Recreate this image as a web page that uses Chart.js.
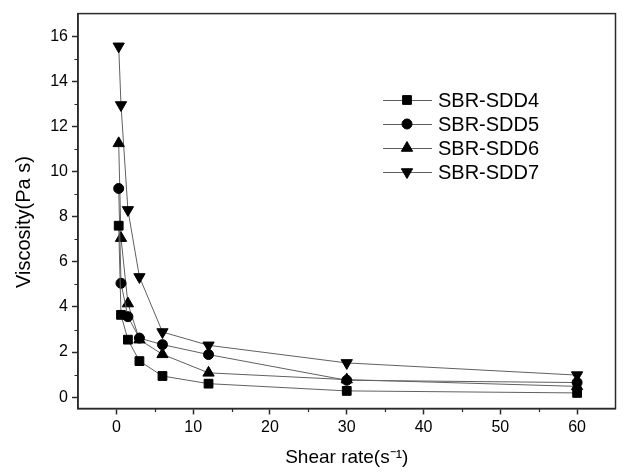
<!DOCTYPE html>
<html><head><meta charset="utf-8">
<script src="https://cdn.jsdelivr.net/npm/chart.js@4/dist/chart.umd.min.js"></script>
<style>html,body{margin:0;padding:0;background:#fff}#wrap{width:623px;height:474px}</style>
</head><body><div id="wrap"><canvas id="c" width="623" height="474"></canvas></div>
<script>
const shearRates = [0.3, 0.6, 1.5, 3, 6, 12, 30, 60];
const seriesNames = ['SBR-SDD4', 'SBR-SDD5', 'SBR-SDD6', 'SBR-SDD7'];
const sdd4 = [7.6, 3.65, 2.55, 1.6, 0.94, 0.6, 0.28, 0.19];
const sdd5 = [9.25, 5.05, 3.57, 2.62, 2.33, 1.89, 0.75, 0.65];
const sdd6 = [11.25, 7.05, 4.15, 2.55, 1.9, 1.08, 0.78, 0.48];
const sdd7 = [15.55, 12.95, 8.3, 5.33, 2.89, 2.3, 1.52, 0.98];
const xTicks = [0, 10, 20, 30, 40, 50, 60];
const yTicks = [0, 2, 4, 6, 8, 10, 12, 14, 16];
const xTitle = 'Shear rate(s\u207B\u00B9)';
const yTitle = 'Viscosity(Pa s)';

const FONT = "'Liberation Sans', Arial, Helvetica, sans-serif";
const AXIS = '#2a2a2a';
const styles = [
  {pointStyle: 'rect', radius: 6.2, rotation: 0},
  {pointStyle: 'circle', radius: 5, rotation: 0},
  {pointStyle: 'triangle', radius: 6.5, rotation: 0},
  {pointStyle: 'triangle', radius: 6.5, rotation: 180}
];
const allSeries = [sdd4, sdd5, sdd6, sdd7];

const datasets = allSeries.map((arr, i) => ({
  label: seriesNames[i],
  data: shearRates.map((x, j) => ({x: x, y: arr[j]})),
  showLine: true,
  borderColor: '#606060',
  borderWidth: 1,
  backgroundColor: '#000',
  pointBackgroundColor: '#000',
  pointBorderColor: '#000',
  pointBorderWidth: 1,
  pointRadius: styles[i].radius,
  pointStyle: styles[i].pointStyle,
  pointRotation: styles[i].rotation,
  tension: 0
}));

const framePlugin = {
  id: 'frame',
  afterDraw(chart) {
    const {ctx, chartArea: a, scales} = chart;
    ctx.save();
    ctx.strokeStyle = AXIS;
    ctx.lineWidth = 1.5;
    ctx.strokeRect(a.left, a.top, a.right - a.left, a.bottom - a.top);
    // minor ticks
    ctx.lineWidth = 1.2;
    ctx.beginPath();
    for (let v = 5; v <= 55; v += 10) {
      const px = Math.round(scales.x.getPixelForValue(v)) + 0.5;
      ctx.moveTo(px, a.bottom); ctx.lineTo(px, a.bottom + 3.5);
    }
    for (let v = 1; v <= 15; v += 2) {
      const py = Math.round(scales.y.getPixelForValue(v)) + 0.5;
      ctx.moveTo(a.left, py); ctx.lineTo(a.left - 3.5, py);
    }
    ctx.stroke();
    // y axis title
    ctx.save();
    ctx.translate(24.5, 222);
    ctx.rotate(-Math.PI / 2);
    ctx.fillStyle = '#000';
    ctx.font = '20px ' + FONT;
    ctx.textAlign = 'center';
    ctx.textBaseline = 'middle';
    ctx.fillText(yTitle, 0, 0);
    ctx.restore();
    // legend
    const lx0 = 383, lx1 = 432, mx = 407, tx = 438, ly0 = 100, dy = 24;
    chart.data.datasets.forEach((ds, i) => {
      const y = ly0 + dy * i;
      ctx.strokeStyle = '#606060';
      ctx.lineWidth = 1;
      ctx.beginPath();
      ctx.moveTo(lx0, y + 0.5); ctx.lineTo(lx1, y + 0.5);
      ctx.stroke();
      ctx.fillStyle = '#000';
      ctx.strokeStyle = '#000';
      Chart.helpers.drawPoint(ctx, {pointStyle: styles[i].pointStyle, radius: styles[i].radius, rotation: styles[i].rotation, borderWidth: 1}, mx, y);
      ctx.fillStyle = '#000';
      ctx.font = '20px ' + FONT;
      ctx.textBaseline = 'middle';
      ctx.textAlign = 'left';
      ctx.fillText(ds.label, tx, y + 1);
    });
    ctx.restore();
  }
};

new Chart(document.getElementById('c'), {
  type: 'scatter',
  data: {datasets: datasets},
  plugins: [framePlugin],
  options: {
    responsive: false,
    animation: false,
    devicePixelRatio: 1,
    layout: {padding: {top: 12, right: 2, left: 0, bottom: 0}},
    plugins: {legend: {display: false}, tooltip: {enabled: false}},
    scales: {
      x: {
        type: 'linear', min: -5, max: 65,
        afterBuildTicks: s => { s.ticks = xTicks.map(v => ({value: v})); },
        afterFit: s => { s.height = 65.5; },
        ticks: {font: {family: FONT, size: 16}, color: '#000', padding: 3, maxRotation: 0, autoSkip: false},
        grid: {display: true, drawOnChartArea: false, drawTicks: true, tickLength: 6, tickColor: AXIS, tickWidth: 1.5, color: AXIS},
        border: {display: true, color: AXIS, width: 1.5},
        title: {display: true, text: xTitle, color: '#000', font: {family: FONT, size: 19}, padding: {top: 0, bottom: 5}}
      },
      y: {
        type: 'linear', min: -0.5, max: 17,
        afterBuildTicks: s => { s.ticks = yTicks.map(v => ({value: v})); },
        afterFit: s => { s.width = 78; },
        ticks: {font: {family: FONT, size: 16}, color: '#000', padding: 4, autoSkip: false},
        grid: {display: true, drawOnChartArea: false, drawTicks: true, tickLength: 6, tickColor: AXIS, tickWidth: 1.5, color: AXIS},
        border: {display: true, color: AXIS, width: 1.5},
        title: {display: false}
      }
    }
  }
});
</script></body></html>
